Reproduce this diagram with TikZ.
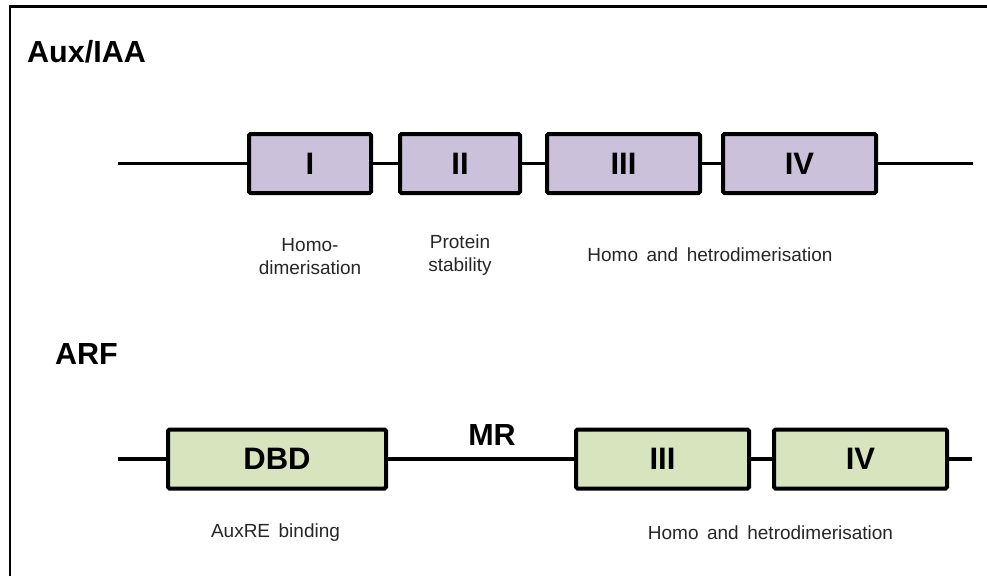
\documentclass[tikz,border=0pt]{standalone}
\usepackage{fontspec}
\setmainfont{Liberation Sans}
\definecolor{iaafill}{HTML}{CCC1DA}
\definecolor{arffill}{HTML}{D7E4BD}
\tikzset{
  dombox/.style={draw=black, line width=4pt, rounded corners=1.5pt, inner sep=0pt,
    minimum height=59pt, font=\fontsize{31}{34}\selectfont\bfseries},
  iaabox/.style={dombox, fill=iaafill},
  arfbox/.style={dombox, fill=arffill},
  ttltext/.style={font=\fontsize{30.5}{34}\selectfont\bfseries, inner sep=0pt},
  notetext/.style={font=\fontsize{19}{23}\selectfont, align=center, inner sep=0pt, text=black!85},
  linkline/.style={line width=3.3pt},
}
\begin{document}
\begin{tikzpicture}[x=1pt,y=-1pt]
\useasboundingbox (0,0) rectangle (987,576);
% frame
\draw[line width=2.5pt] (10,576) -- (10,6.5) -- (987,6.5);

% Aux/IAA
\node[ttltext, anchor=west] (t1) at (27,52) {Aux/IAA};
\coordinate (s1) at (118,163.5);
\coordinate (e1) at (973,163.5);
\node[iaabox, minimum width=122pt] (b1) at (310,163.5) {I};
\node[iaabox, minimum width=120pt] (b2) at (460,163.5) {II};
\node[iaabox, minimum width=153pt] (b3) at (623.5,163.5) {III};
\node[iaabox, minimum width=153pt] (b4) at (799.5,163.5) {IV};
\draw[linkline] (s1) -- (b1.west);
\draw[linkline] (b1.east) -- (b2.west);
\draw[linkline] (b2.east) -- (b3.west);
\draw[linkline] (b3.east) -- (b4.west);
\draw[linkline] (b4.east) -- (e1);
\node[notetext] (n1) at (310,256.5) {Homo-\\dimerisation};
\node[notetext] (n2) at (460,255.5) {Protein\\stability};
\node[notetext] (n3) at (710,255) {Homo\hspace{0.45em}and\hspace{0.45em}hetrodimerisation};

% ARF
\node[ttltext, anchor=west] (t2) at (55,354) {ARF};
\coordinate (s2) at (118,459);
\coordinate (e2) at (972,459);
\node[arfbox, minimum width=218pt] (d1) at (277,459) {DBD};
\node[arfbox, minimum width=173pt] (d3) at (662.5,459) {III};
\node[arfbox, minimum width=173pt] (d4) at (860.5,459) {IV};
\draw[linkline] (s2) -- (d1.west);
\draw[linkline] (d1.east) -- node[ttltext, above=12pt, xshift=11pt] (mr) {MR} (d3.west);
\draw[linkline] (d3.east) -- (d4.west);
\draw[linkline] (d4.east) -- (e2);
\node[notetext] (n4) at (275.5,533) {AuxRE\hspace{0.45em}binding};
\node[notetext] (n5) at (770.5,533) {Homo\hspace{0.45em}and\hspace{0.45em}hetrodimerisation};
\end{tikzpicture}
\end{document}
